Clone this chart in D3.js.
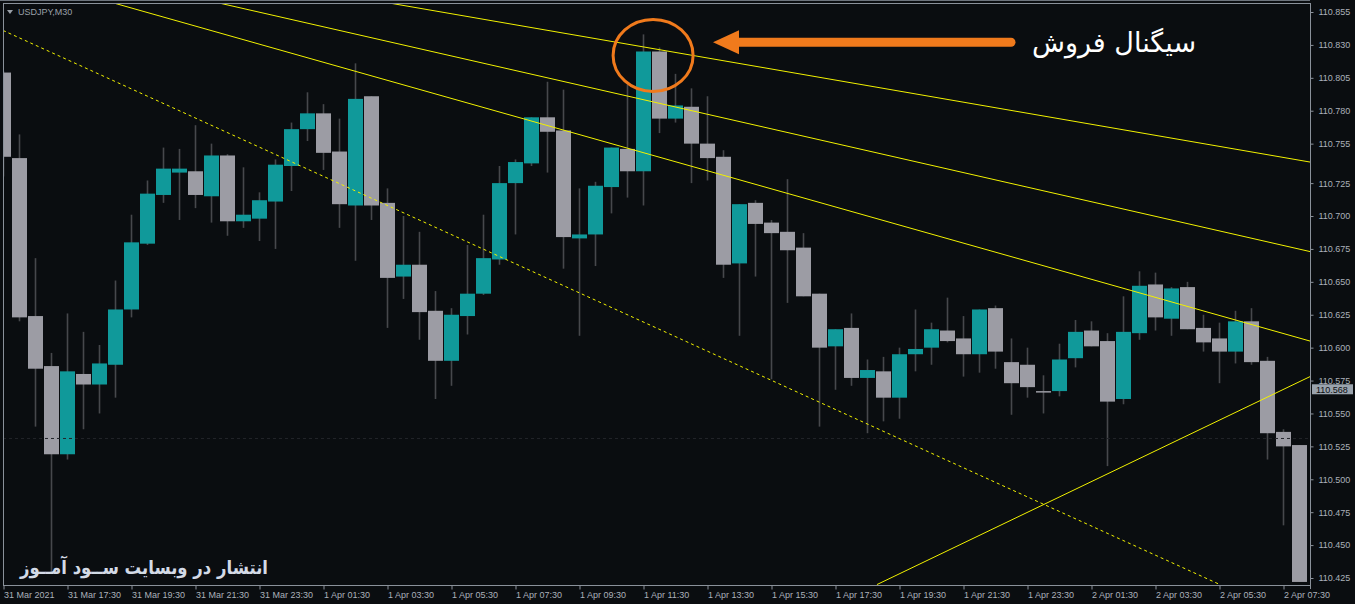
<!DOCTYPE html>
<html>
<head>
<meta charset="utf-8">
<script src="https://cdn.jsdelivr.net/npm/d3@7"></script>
<style>
html, body { margin: 0; padding: 0; background: #0a0d10; overflow: hidden; }
svg { display: block; }
</style>
</head>
<body>
<div id="chart"></div>
<script>
// USDJPY M30 candles (index 0 = 31 Mar 15:30)
const opens = [110.809,110.744,110.624,110.586,110.519,110.580,110.572,110.587,110.629,110.679,
  110.716,110.733,110.734,110.715,110.746,110.696,110.698,110.711,110.738,110.766,
  110.778,110.749,110.708,110.791,110.710,110.654,110.663,110.628,110.590,110.624,
  110.641,110.667,110.725,110.740,110.775,110.765,110.683,110.686,110.722,110.751,
  110.734,110.825,110.774,110.783,110.755,110.745,110.664,110.710,110.695,110.688,
  110.676,110.641,110.601,110.615,110.577,110.582,110.562,110.595,110.600,110.613,
  110.607,110.595,110.630,110.589,110.587,110.567,110.567,110.592,110.613,110.605,
  110.561,110.611,110.648,110.622,110.646,110.615,110.607,110.597,110.620,110.590,
  110.536,110.526];
const highs = [110.810,110.762,110.668,110.596,110.626,110.612,110.602,110.651,110.701,110.727,
  110.752,110.751,110.769,110.755,110.747,110.737,110.718,110.743,110.771,110.794,
  110.785,110.774,110.816,110.791,110.721,110.700,110.688,110.643,110.630,110.678,
  110.701,110.738,110.743,110.775,110.802,110.796,110.721,110.726,110.752,110.800,
  110.838,110.828,110.808,110.797,110.791,110.750,110.709,110.712,110.697,110.728,
  110.687,110.641,110.614,110.626,110.591,110.593,110.600,110.629,110.619,110.638,
  110.624,110.629,110.632,110.607,110.600,110.579,110.603,110.621,110.620,110.611,
  110.639,110.658,110.657,110.646,110.650,110.625,110.619,110.628,110.630,110.593,
  110.538,110.526];
const lows = [110.730,110.620,110.540,110.428,110.515,110.538,110.550,110.562,110.623,110.678,
  110.710,110.697,110.706,110.695,110.685,110.691,110.681,110.675,110.719,110.757,
  110.735,110.691,110.666,110.697,110.615,110.637,110.606,110.561,110.571,110.610,
  110.640,110.663,110.686,110.738,110.733,110.660,110.609,110.662,110.702,110.714,
  110.708,110.763,110.771,110.725,110.727,110.653,110.609,110.654,110.576,110.634,
  110.639,110.540,110.568,110.571,110.535,110.544,110.546,110.582,110.587,110.604,
  110.578,110.581,110.584,110.549,110.562,110.550,110.563,110.585,110.601,110.510,
  110.557,110.606,110.613,110.609,110.614,110.597,110.573,110.588,110.587,110.515,
  110.465,110.422];
const closes = [110.745,110.623,110.584,110.519,110.582,110.572,110.588,110.629,110.680,110.717,
  110.736,110.736,110.716,110.746,110.696,110.701,110.712,110.739,110.766,110.778,
  110.748,110.709,110.789,110.708,110.653,110.663,110.627,110.590,110.625,110.641,
  110.668,110.725,110.741,110.775,110.764,110.684,110.686,110.723,110.752,110.734,
  110.825,110.774,110.784,110.755,110.744,110.663,110.709,110.694,110.687,110.674,
  110.639,110.600,110.614,110.577,110.583,110.562,110.595,110.599,110.614,110.605,
  110.595,110.629,110.597,110.573,110.570,110.566,110.591,110.612,110.601,110.559,
  110.612,110.647,110.623,110.645,110.614,110.604,110.597,110.620,110.589,110.535,
  110.525,110.422];

const timeTicks = [0,4,8,12,16,20,24,28,32,36,40,44,48,52,56,60,64,68,72,76,80];
const timeLabels = ["31 Mar 2021","31 Mar 17:30","31 Mar 19:30","31 Mar 21:30","31 Mar 23:30",
  "1 Apr 01:30","1 Apr 03:30","1 Apr 05:30","1 Apr 07:30","1 Apr 09:30","1 Apr 11:30",
  "1 Apr 13:30","1 Apr 15:30","1 Apr 17:30","1 Apr 19:30","1 Apr 21:30","1 Apr 23:30",
  "2 Apr 01:30","2 Apr 03:30","2 Apr 05:30","2 Apr 07:30"];
const priceTicks = [110.855,110.830,110.805,110.780,110.755,110.725,110.700,110.675,110.650,
  110.625,110.600,110.575,110.550,110.525,110.500,110.475,110.450,110.425];

// trend lines: [index, price] start and end, plus dashed flag
const trendStart = [[24.03,110.862],[13.41,110.862],[6.84,110.862],[-0.03,110.841],[54.59,110.420]];
const trendEnd   = [[81.66,110.741],[81.66,110.673],[81.66,110.605],[76.03,110.420],[81.66,110.578]];
const trendDotted = [false,false,false,true,false];

const bidPrice = 110.568;
const gridPrice = 110.531;

const W = 1355, H = 604;
const plot = {left: 3, right: 1310, top: 3, bottom: 585};

const svg = d3.select("#chart")
    .append("svg")
    .attr("width", W)
    .attr("height", H)
    .style("background", "#0a0d10");

const x = d3.scaleLinear().domain([0, 81]).range([3.5, 1299.5]);
const y = d3.scaleLinear().domain([110.425, 110.855]).range([578, 12]);

svg.append("defs").append("clipPath")
    .attr("id", "plotClip")
    .append("rect")
    .attr("x", plot.left)
    .attr("y", plot.top)
    .attr("width", plot.right - plot.left)
    .attr("height", plot.bottom - plot.top);

const candles = opens.map((o, i) => ({i, o, h: highs[i], l: lows[i], c: closes[i]}));

const g = svg.append("g").attr("clip-path", "url(#plotClip)");

// wicks
g.selectAll(".wick")
    .data(candles)
    .enter().append("line")
    .attr("x1", d => x(d.i))
    .attr("x2", d => x(d.i))
    .attr("y1", d => y(d.h))
    .attr("y2", d => y(d.l))
    .attr("stroke", "#46484c")
    .attr("stroke-width", 1.6);

// bodies
g.selectAll(".body")
    .data(candles)
    .enter().append("rect")
    .attr("x", d => x(d.i) - 7.5)
    .attr("width", 15)
    .attr("y", d => y(Math.max(d.o, d.c)))
    .attr("height", d => Math.max(1.5, Math.abs(y(d.o) - y(d.c))))
    .attr("fill", d => d.c >= d.o ? "#10999a" : "#9c9ca4");

// faint dotted horizontal line
g.append("line")
    .attr("x1", plot.left).attr("x2", plot.right)
    .attr("y1", y(gridPrice)).attr("y2", y(gridPrice))
    .attr("stroke", "#22252a")
    .attr("stroke-dasharray", "3,3");

// trend lines
trendStart.forEach((s, k) => {
    g.append("line")
        .attr("x1", x(s[0])).attr("y1", y(s[1]))
        .attr("x2", x(trendEnd[k][0])).attr("y2", y(trendEnd[k][1]))
        .attr("stroke", "#f2f200")
        .attr("stroke-width", 1)
        .attr("stroke-dasharray", trendDotted[k] ? "3,3" : null);
});

// frame
svg.append("line").attr("x1", 0).attr("x2", plot.right).attr("y1", 0.5).attr("y2", 0.5).attr("stroke", "#6c737c");
svg.append("line").attr("x1", plot.left).attr("x2", plot.right).attr("y1", plot.top + 0.5).attr("y2", plot.top + 0.5).attr("stroke", "#8a919a");
svg.append("line").attr("x1", plot.left + 0.5).attr("x2", plot.left + 0.5).attr("y1", plot.top).attr("y2", plot.bottom).attr("stroke", "#8a919a");
svg.append("line").attr("x1", plot.right + 0.5).attr("x2", plot.right + 0.5).attr("y1", plot.top).attr("y2", plot.bottom + 4).attr("stroke", "#8a919a");
svg.append("line").attr("x1", plot.left).attr("x2", plot.right).attr("y1", plot.bottom + 0.5).attr("y2", plot.bottom + 0.5).attr("stroke", "#8a919a");

// axes
const axisFont = "'Liberation Sans', Arial, sans-serif";

const yAxis = svg.append("g")
    .attr("transform", `translate(${plot.right + 0.5},0)`)
    .call(d3.axisRight(y).tickValues(priceTicks).tickFormat(d3.format(".3f")).tickSize(3).tickPadding(5));

const xAxis = svg.append("g")
    .attr("transform", `translate(0,${plot.bottom + 0.5})`)
    .call(d3.axisBottom(x).tickValues(timeTicks).tickFormat((d, k) => timeLabels[k]).tickSize(4).tickPadding(2));

[yAxis, xAxis].forEach(a => {
    a.select(".domain").remove();
    a.selectAll(".tick line").attr("stroke", "#8a919a");
    a.selectAll("text")
        .attr("fill", "#aab1ba")
        .style("font-family", axisFont)
        .style("font-size", "9px");
});
xAxis.selectAll("text").attr("text-anchor", "start");

// current price label
const bidY = y(bidPrice);
svg.append("rect")
    .attr("x", plot.right + 2).attr("y", bidY - 5.5)
    .attr("width", 41).attr("height", 10)
    .attr("fill", "#9aa3ad");
svg.append("text")
    .attr("x", plot.right + 6).attr("y", bidY + 3.5)
    .attr("fill", "#0a0d10")
    .style("font-family", axisFont)
    .style("font-size", "9px")
    .text(d3.format(".3f")(bidPrice));

// symbol title
svg.append("path")
    .attr("d", "M7,10 L13,10 L10,14 Z")
    .attr("fill", "#9aa0a8");
svg.append("text")
    .attr("x", 18).attr("y", 15)
    .attr("fill", "#9aa0a8")
    .style("font-family", axisFont)
    .style("font-size", "9px")
    .text("USDJPY,M30");

// sell signal annotation
const sigX = x(40.6), sigY = y(110.822);
svg.append("ellipse")
    .attr("cx", sigX).attr("cy", sigY)
    .attr("rx", 40).attr("ry", 36)
    .attr("fill", "none")
    .attr("stroke", "#f07a1c")
    .attr("stroke-width", 3);

const arrowY = y(110.832);
svg.append("line")
    .attr("x1", 732).attr("x2", 1011)
    .attr("y1", arrowY).attr("y2", arrowY)
    .attr("stroke", "#f07a1c")
    .attr("stroke-width", 9)
    .attr("stroke-linecap", "round");
svg.append("path")
    .attr("d", `M713,${arrowY} L739,${arrowY - 12} L739,${arrowY + 12} Z`)
    .attr("fill", "#f07a1c");

svg.append("text")
    .attr("x", 1114).attr("y", 52)
    .attr("text-anchor", "middle")
    .attr("fill", "#ffffff")
    .style("font-family", "'DejaVu Sans', sans-serif")
    .style("font-size", "27px")
    .text("سیگنال فروش");

// watermark
svg.append("text")
    .attr("x", 144).attr("y", 574)
    .attr("text-anchor", "middle")
    .attr("fill", "#d3dae6")
    .attr("textLength", 248)
    .attr("lengthAdjust", "spacingAndGlyphs")
    .style("font-family", "'DejaVu Sans', sans-serif")
    .style("font-weight", "bold")
    .style("font-size", "19px")
    .text("انتشار در وبسایت ســود آمــوز");
</script>
</body>
</html>
